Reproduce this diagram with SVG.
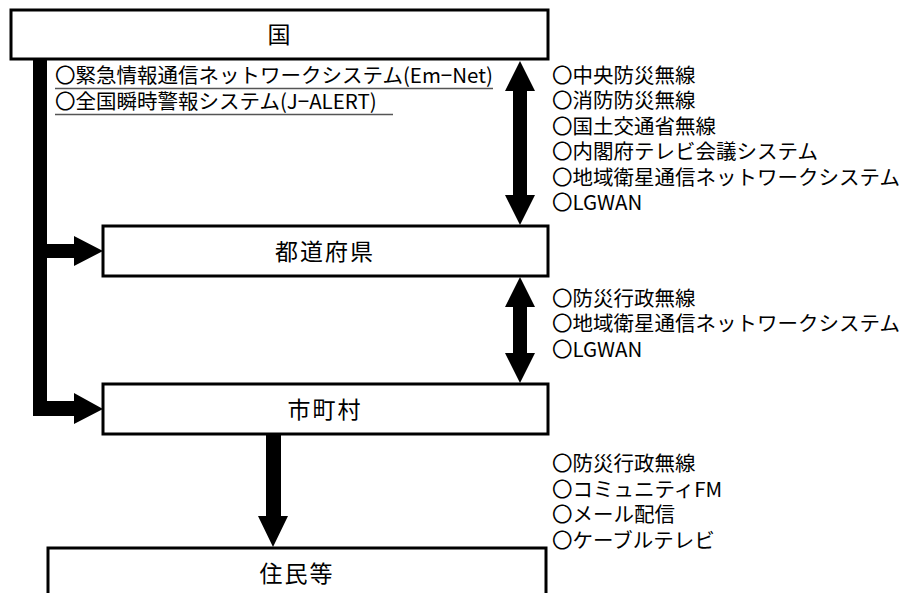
<svg xmlns="http://www.w3.org/2000/svg" width="902" height="593" viewBox="0 0 902 593">
<style>
.box{fill:#fff;stroke:#000;stroke-width:3}
.lbl{font-family:"Noto Sans CJK JP","Noto Sans CJK SC",sans-serif;font-size:23px;fill:#000;text-anchor:middle;letter-spacing:2px}
.t{font-family:"Noto Sans CJK JP","Noto Sans CJK SC",sans-serif;font-size:20.5px;fill:#000}
.ul{stroke:#555;stroke-width:1.5}
.ar{fill:#000}
</style>
<rect width="902" height="593" fill="#fff"/>
<g id="connectors">
  <rect class="ar" x="33" y="59" width="14" height="357"/>
  <path class="ar" d="M47,244 H74 V236 L103,251 L74,266 V258 H47 Z"/>
  <path class="ar" d="M47,401 H74 V393 L103,409 L74,424 V416 H47 Z"/>
  <path class="ar" d="M520,61 L535,91 H527 V195 H535 L520,225 L505,195 H513 V91 H505 Z"/>
  <path class="ar" d="M520,277 L535,307 H527 V353 H535 L520,383 L505,353 H513 V307 H505 Z"/>
  <path class="ar" d="M266,434 H281 V516 H288 L273,547 L258,516 H266 Z"/>
</g>
<g id="node-kuni">
  <rect class="box" x="11" y="10" width="537" height="49"/>
  <text class="lbl" x="280" y="43">国</text>
</g>
<g id="node-todofuken">
  <rect class="box" x="103" y="226" width="445" height="50"/>
  <text class="lbl" x="325" y="260">都道府県</text>
</g>
<g id="node-shichoson">
  <rect class="box" x="103" y="384" width="445" height="50"/>
  <text class="lbl" x="325" y="418">市町村</text>
</g>
<g id="node-jumin">
  <rect class="box" x="48" y="548" width="498" height="60"/>
  <text class="lbl" x="297" y="582">住民等</text>
</g>
<g id="text-kuni-left">
  <text class="t" x="55" y="83">〇緊急情報通信ネットワークシステム(Em−Net)</text>
  <line class="ul" x1="55" y1="88.5" x2="493" y2="88.5"/>
  <text class="t" x="55" y="109">〇全国瞬時警報システム(J−ALERT)</text>
  <line class="ul" x1="55" y1="114.5" x2="393" y2="114.5"/>
</g>
<g id="text-kuni-right">
  <text class="t" x="552" y="83">〇中央防災無線</text>
  <text class="t" x="552" y="108">〇消防防災無線</text>
  <text class="t" x="552" y="134">〇国土交通省無線</text>
  <text class="t" x="552" y="159">〇内閣府テレビ会議システム</text>
  <text class="t" x="552" y="185">〇地域衛星通信ネットワークシステム</text>
  <text class="t" x="552" y="210">〇LGWAN</text>
</g>
<g id="text-todofuken-right">
  <text class="t" x="552" y="306">〇防災行政無線</text>
  <text class="t" x="552" y="331">〇地域衛星通信ネットワークシステム</text>
  <text class="t" x="552" y="357">〇LGWAN</text>
</g>
<g id="text-shichoson-right">
  <text class="t" x="552" y="471">〇防災行政無線</text>
  <text class="t" x="552" y="497">〇コミュニティFM</text>
  <text class="t" x="552" y="522">〇メール配信</text>
  <text class="t" x="552" y="548">〇ケーブルテレビ</text>
</g>
</svg>
